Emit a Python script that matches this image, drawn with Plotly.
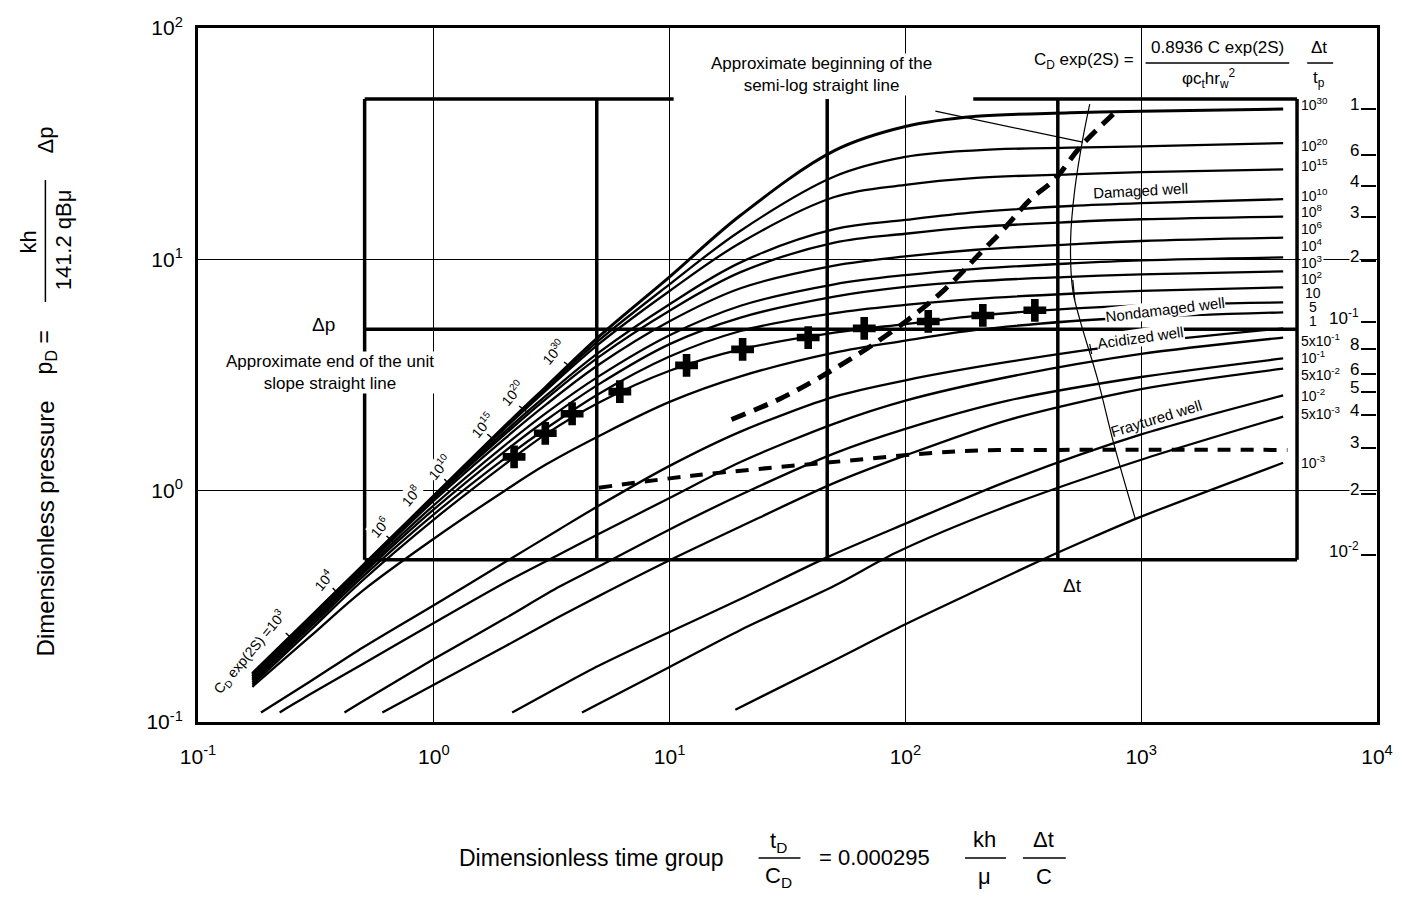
import plotly.graph_objects as go

# ---------------- data (x = tD/CD , y = pD) ----------------
band_x = [0.17, 0.3, 0.5, 1, 2, 3, 5, 10, 20, 50, 100, 200, 500, 1000, 4000]
cd_1e30 = [0.162, 0.285, 0.475, 0.95, 1.90, 2.82, 4.62, 8.4, 15.5, 29.5, 37.5, 41.5, 43.0, 43.7, 44.6]
cd_1e20 = [0.161, 0.284, 0.474, 0.948, 1.88, 2.77, 4.45, 7.8, 13.3, 22.8, 27.7, 29.6, 30.4, 30.8, 31.8]
cd_1e15 = [0.160, 0.283, 0.472, 0.945, 1.86, 2.72, 4.30, 7.3, 11.8, 18.6, 21.0, 22.5, 23.3, 23.8, 24.5]
cd_1e10 = [0.158, 0.280, 0.468, 0.935, 1.80, 2.58, 3.95, 6.4, 9.7, 13.5, 14.8, 16.0, 17.0, 17.5, 18.2]
cd_1e8 = [0.157, 0.278, 0.464, 0.925, 1.75, 2.50, 3.78, 6.0, 8.8, 11.8, 12.9, 13.8, 14.5, 14.9, 15.3]
cd_1e6 = [0.155, 0.275, 0.458, 0.905, 1.68, 2.36, 3.50, 5.4, 7.5, 9.4, 10.3, 11.0, 11.6, 12.0, 12.4]
cd_1e4 = [0.153, 0.270, 0.448, 0.865, 1.57, 2.17, 3.12, 4.7, 6.3, 7.8, 8.55, 9.1, 9.6, 9.9, 10.2]
cd_1e3 = [0.151, 0.265, 0.438, 0.830, 1.48, 2.02, 2.88, 4.3, 5.6, 6.9, 7.6, 8.05, 8.4, 8.61, 8.87]
cd_1e2 = [0.148, 0.258, 0.425, 0.790, 1.38, 1.86, 2.62, 3.8, 4.9, 5.85, 6.35, 6.75, 7.1, 7.3, 7.57]
cd_10 = [0.145, 0.250, 0.410, 0.750, 1.30, 1.76, 2.40, 3.30, 4.08, 4.82, 5.25, 5.70, 6.12, 6.33, 6.51]
cd_5 = [0.142, 0.235, 0.370, 0.620, 1.00, 1.30, 1.72, 2.42, 3.12, 3.95, 4.45, 4.95, 5.40, 5.62, 5.90]

cd_1_x = [0.185, 0.3, 0.5, 1, 2, 3.4, 5, 10, 20, 50, 100, 272, 1000, 4000]
cd_1 = [0.11, 0.15, 0.21, 0.32, 0.49, 0.68, 0.86, 1.28, 1.80, 2.55, 3.0, 3.6, 4.35, 5.03]
cd_5em1_x = [0.222, 0.3, 0.5, 1, 2, 3.4, 5, 10, 20, 50, 100, 272, 1000, 4000]
cd_5em1 = [0.11, 0.132, 0.178, 0.268, 0.40, 0.53, 0.65, 0.93, 1.33, 1.95, 2.45, 3.1, 3.9, 4.59]
cd_1em1_x = [0.418, 0.5, 1, 2, 3.4, 5, 10, 20, 50, 100, 272, 1000, 4000]
cd_1em1 = [0.11, 0.123, 0.187, 0.28, 0.384, 0.47, 0.68, 0.96, 1.45, 1.85, 2.45, 3.1, 3.73]
cd_5em2_x = [0.605, 1, 2, 3.4, 5, 10, 20, 50, 100, 272, 1000, 4000]
cd_5em2 = [0.11, 0.145, 0.212, 0.285, 0.35, 0.50, 0.70, 1.08, 1.42, 2.02, 2.75, 3.37]
cd_1em2_x = [2.15, 3.4, 5, 10, 20, 47.5, 100, 272, 1000, 4000]
cd_1em2 = [0.11, 0.142, 0.175, 0.245, 0.34, 0.52, 0.72, 1.1, 1.75, 2.58]
cd_5em3_x = [4.25, 10, 20, 50, 91, 246, 1000, 4000]
cd_5em3 = [0.11, 0.173, 0.25, 0.388, 0.539, 0.827, 1.36, 2.09]
cd_1em3_x = [19, 50, 98, 200, 372, 630, 1000, 4000]
cd_1em3 = [0.113, 0.185, 0.262, 0.37, 0.498, 0.632, 0.772, 1.32]

# field data points (crosses)
cross_x = [2.19, 2.97, 3.86, 6.15, 11.8, 20.4, 38.7, 66.9, 125, 213, 354]
cross_y = [1.40, 1.77, 2.15, 2.68, 3.48, 4.08, 4.59, 5.03, 5.39, 5.72, 6.02]

# dashed and thin guide lines
semilog_start_x = [18.3, 29.0, 39.9, 53.5, 70.9, 103, 147, 209, 254, 340, 430, 554, 794]
semilog_start_y = [2.03, 2.48, 2.94, 3.51, 4.20, 5.50, 7.42, 10.7, 13.1, 18.2, 22.2, 30.8, 44.2]
fracture_x = [5.01, 12.4, 45.8, 167, 443, 4170]
fracture_y = [1.03, 1.16, 1.32, 1.48, 1.50, 1.50]
locus_x = [605, 565, 523, 502, 512, 549, 654, 771, 946]
locus_y = [46.9, 33.1, 20.1, 12.2, 7.42, 5.50, 3.02, 1.55, 0.749]
pointer_x = [134, 565]
pointer_y = [43.7, 32.1]

# overlay (tracing paper) grid
overlay_x = [0.509, 4.91, 46.6, 443, 4580]
overlay_y = [0.503, 4.98, 49.3]
overlay_top_gap = [10.4, 194]

curve_labels = ["10<sup>30</sup>", "10<sup>20</sup>", "10<sup>15</sup>", "10<sup>10</sup>", "10<sup>8</sup>",
                "10<sup>6</sup>", "10<sup>4</sup>", "10<sup>3</sup>", "10<sup>2</sup>", "10", "5", "1",
                "5x10<sup>-1</sup>", "10<sup>-1</sup>", "5x10<sup>-2</sup>", "10<sup>-2</sup>",
                "5x10<sup>-3</sup>", "10<sup>-3</sup>"]
ratio_labels = ["1", "6", "4", "3", "2", "10<sup>-1</sup>", "8", "6", "5", "4", "3", "2", "10<sup>-2</sup>"]

x_tickvals = [0.1, 1, 10, 100, 1000, 10000]
x_ticktext = ["10<sup>-1</sup>", "10<sup>0</sup>", "10<sup>1</sup>", "10<sup>2</sup>", "10<sup>3</sup>", "10<sup>4</sup>"]
y_tickvals = [0.1, 1, 10, 100]
y_ticktext = ["10<sup>-1</sup>", "10<sup>0</sup>", "10<sup>1</sup>", "10<sup>2</sup>"]

# ---------------- figure ----------------
W, H = 1405, 899
ML, MR, MT, MB = 198, 25, 28, 177
PW, PH = W - ML - MR, H - MT - MB
SANS = "Liberation Sans, Arial, sans-serif"


def px(x):
    return (x - ML) / PW


def py(y):
    return (MT + PH - y) / PH


fig = go.Figure()

band_curves = [cd_1e30, cd_1e20, cd_1e15, cd_1e10, cd_1e8, cd_1e6, cd_1e4, cd_1e3, cd_1e2, cd_10, cd_5]
for i, ys in enumerate(band_curves):
    fig.add_trace(go.Scatter(x=band_x, y=ys, mode="lines",
                             line=dict(color="black", width=3.0 if i == 0 else 2.3, shape="spline", smoothing=1.0),
                             hoverinfo="skip", showlegend=False))

lower = [(cd_1_x, cd_1), (cd_5em1_x, cd_5em1), (cd_1em1_x, cd_1em1), (cd_5em2_x, cd_5em2),
         (cd_1em2_x, cd_1em2), (cd_5em3_x, cd_5em3), (cd_1em3_x, cd_1em3)]
for xs, ys in lower:
    fig.add_trace(go.Scatter(x=xs, y=ys, mode="lines",
                             line=dict(color="black", width=2.3, shape="spline", smoothing=0.8),
                             hoverinfo="skip", showlegend=False))

# thin guide lines
fig.add_trace(go.Scatter(x=locus_x, y=locus_y, mode="lines",
                         line=dict(color="black", width=1.2, shape="spline"), hoverinfo="skip", showlegend=False))
fig.add_trace(go.Scatter(x=pointer_x, y=pointer_y, mode="lines",
                         line=dict(color="black", width=1.2), hoverinfo="skip", showlegend=False))

# overlay grid (thick)
ox0, ox1 = overlay_x[0], overlay_x[-1]
oy0, oy1 = overlay_y[0], overlay_y[-1]
seg_x, seg_y = [], []
for yv in overlay_y[:-1]:
    seg_x += [ox0, ox1, None]
    seg_y += [yv, yv, None]
seg_x += [ox0, overlay_top_gap[0], None, overlay_top_gap[1], ox1, None]
seg_y += [oy1, oy1, None, oy1, oy1, None]
for xv in overlay_x:
    seg_x += [xv, xv, None]
    seg_y += [oy0, oy1, None]
fig.add_trace(go.Scatter(x=seg_x, y=seg_y, mode="lines", line=dict(color="black", width=3.5),
                         hoverinfo="skip", showlegend=False))

# dashed lines
fig.add_trace(go.Scatter(x=semilog_start_x, y=semilog_start_y, mode="lines",
                         line=dict(color="black", width=5, dash="15px,9px", shape="spline"),
                         hoverinfo="skip", showlegend=False))
fig.add_trace(go.Scatter(x=fracture_x, y=fracture_y, mode="lines",
                         line=dict(color="black", width=4, dash="13px,10px", shape="spline"),
                         hoverinfo="skip", showlegend=False))

# crosses
fig.add_trace(go.Scatter(x=cross_x, y=cross_y, mode="markers",
                         marker=dict(symbol="cross", size=19, color="black", line=dict(width=0)),
                         hoverinfo="skip", showlegend=False))

annotations = []
shapes = []


def ann(text, x, y, size=17, angle=0, bg=None, xanchor="center", family=SANS):
    annotations.append(dict(text=text, x=px(x), y=py(y), xref="paper", yref="paper", showarrow=False,
                            textangle=angle, xanchor=xanchor, yanchor="middle",
                            font=dict(family=family, size=size, color="black"),
                            bgcolor=bg if bg else "rgba(0,0,0,0)", borderpad=0))


def seg(x0, y0, x1, y1, w=1.5):
    shapes.append(dict(type="line", xref="paper", yref="paper", x0=px(x0), y0=py(y0), x1=px(x1), y1=py(y1),
                       line=dict(color="black", width=w)))


# text inside plot
ann("Approximate beginning of the<br>semi-log straight line", 823, 74, size=17, bg="white")
ann("Approximate end of the unit<br>slope straight line", 330, 372, size=17, bg="white")
ann("Δp", 324, 325, size=19)
ann("Δt", 1075, 585, size=19)
ann("Damaged well", 1143, 190, size=15, angle=-3)
ann("Nondamaged well", 1167, 309, size=15, angle=-7, bg="white")
ann("Acidized well", 1143, 337, size=15, angle=-8, bg="white")
ann("Fraytured well", 1158, 418, size=15, angle=-17)

# labels on the unit-slope band
band_lab = [("C<sub>D</sub> exp(2S) =10<sup>3</sup>", 250, 652), ("10<sup>4</sup>", 324, 580),
            ("10<sup>6</sup>", 380, 527), ("10<sup>8</sup>", 412, 495), ("10<sup>10</sup>", 440, 467),
            ("10<sup>15</sup>", 483, 425), ("10<sup>20</sup>", 513, 393), ("10<sup>30</sup>", 554, 352)]
for t, x, y in band_lab:
    ann(t, x, y, size=14, angle=-50, bg="white")
for (x0, y0, x1, y1) in [(286, 633, 297, 643), (333, 588, 342, 597), (387, 536, 394, 542),
                         (445, 479, 451, 486), (488, 434, 496, 441), (520, 406, 528, 412), (565, 362, 573, 368)]:
    seg(x0, y0, x1, y1, 1.5)

# small arrows near well labels
seg(1075, 280, 1077, 300, 1.2)
seg(1092, 344, 1094, 354, 1.2)

# right-hand curve labels
rc_py = [104, 145, 165, 195, 211, 228, 245, 262, 278, 293, 307, 321, 340, 357, 374, 395, 413, 462]
for t, y in zip(curve_labels, rc_py):
    if t in ("10", "5", "1"):
        ann(t, 1316, y, size=14, bg="white")
    else:
        ann(t, 1303, y, size=14, bg="white", xanchor="left")

# right-hand Δt/tp scale
rt_py = [104, 150, 181, 212, 256, 317, 344, 369, 387, 410, 443, 489, 550]
for t, y in zip(ratio_labels, rt_py):
    ann(t, 1363, y, size=17, bg="white", xanchor="right")
    seg(1364, y + 5, 1379, y + 5, 2)

# top formula
ann("C<sub>D</sub> exp(2S) =", 1086, 61, size=17)
ann("0.8936 C exp(2S)", 1220, 47, size=17)
seg(1148, 63, 1292, 63, 1.5)
ann("φc<sub>t</sub>hr<sub>w</sub><sup>2</sup>", 1212, 79, size=17)
ann("Δt", 1322, 47, size=17)
seg(1310, 63, 1336, 63, 1.5)
ann("t<sub>p</sub>", 1322, 79, size=17)

# y-axis title
ann("Dimensionless pressure", 45, 528, size=24, angle=-90)
ann("p<sub>D</sub> =", 45, 352, size=23, angle=-90)
ann("kh", 29, 242, size=22, angle=-90)
ann("141.2 qBμ", 63, 240, size=22, angle=-90)
seg(45, 180, 45, 302, 1.5)
ann("Δp", 45, 140, size=22, angle=-90)

# x-axis title
ann("Dimensionless time group", 592, 858, size=23)
ann("t<sub>D</sub>", 780, 842, size=22)
seg(760, 858, 802, 858, 1.5)
ann("C<sub>D</sub>", 780, 877, size=22)
ann("= 0.000295", 876, 858, size=22)
ann("kh", 987, 839, size=22)
seg(967, 858, 1008, 858, 1.5)
ann("μ", 987, 876, size=22)
ann("Δt", 1046, 839, size=22)
seg(1025, 858, 1068, 858, 1.5)
ann("C", 1046, 876, size=22)

fig.update_layout(
    width=W, height=H,
    margin=dict(l=ML, r=MR, t=MT, b=MB, pad=0),
    paper_bgcolor="white", plot_bgcolor="white",
    showlegend=False,
    annotations=annotations, shapes=shapes,
    font=dict(family=SANS, color="black"),
)
fig.update_xaxes(type="log", range=[-1, 4], tickvals=x_tickvals, ticktext=x_ticktext,
                 showgrid=True, gridcolor="black", gridwidth=1, zeroline=False,
                 showline=True, linecolor="black", linewidth=3, mirror=True,
                 ticks="", ticklabelstandoff=14, tickfont=dict(family=SANS, size=21, color="black"))
fig.update_yaxes(type="log", range=[-1, 2], tickvals=y_tickvals, ticktext=y_ticktext,
                 showgrid=True, gridcolor="black", gridwidth=1, zeroline=False,
                 showline=True, linecolor="black", linewidth=3, mirror=True,
                 ticks="", ticklabelstandoff=8, tickfont=dict(family=SANS, size=21, color="black"))

fig.write_html("out.html")
